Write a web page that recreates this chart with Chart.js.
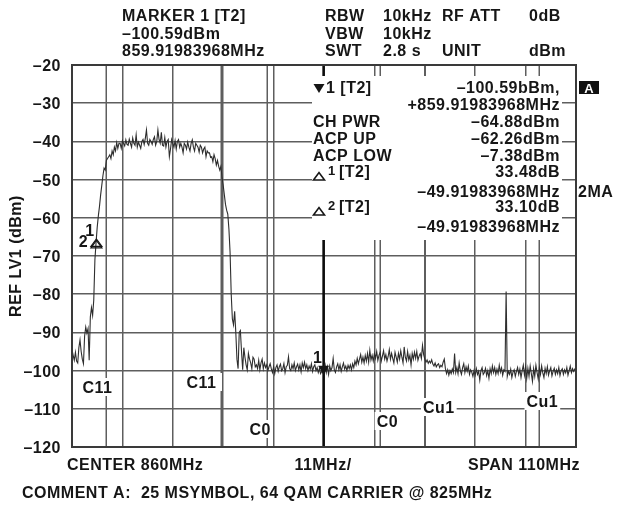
<!DOCTYPE html>
<html>
<head>
<meta charset="utf-8">
<title>Spectrum – 64 QAM carrier</title>
<script src="https://cdn.jsdelivr.net/npm/chart.js@4.4.1/dist/chart.umd.min.js"></script>
<style>
  html, body { margin: 0; padding: 0; background: #fff; }
  #spec { display: block; }
</style>
</head>
<body>
<canvas id="spec" width="617" height="505"></canvas>
<script>
// Sweep 805–915 MHz, one trace point every 0.25 MHz
const sweepStartMHz = 805;
const sweepStepMHz = 0.25;
const traceDbm = [
  -94.5, -96, -97.3, -95.2, -97.5, -98, -94, -92, -95, -97, -98.2, -91, -88.6, -90.2, -89, -97.3, -86, -83.5, -85.5, -81.5,
  -71, -66.5, -62.5, -59.5, -57, -54, -51.5, -49, -47, -47.5, -45, -44.5, -44, -43.5, -44.5, -42.5, -43.5, -41.5, -42.5, -40.3,
  -41.8, -40.5, -40.5, -41.8, -39.8, -40.5, -41.2, -39.6, -40.8, -41, -39.4, -40.5, -41.5, -39.1, -40.5, -41, -38.3, -41.5, -40.2, -41,
  -41.8, -40, -39.5, -40.8, -39.2, -37, -40.5, -41, -39.5, -40, -40.8, -39.5, -38.8, -41, -40, -37, -39.5, -40.5, -37.6, -41,
  -41.2, -39, -41.5, -40, -39.5, -44, -42, -39.5, -40.5, -41.5, -39.8, -42, -40, -39.5, -41.5, -40.5, -41.5, -43, -40.5, -41,
  -42, -40.2, -41.5, -42.5, -40.5, -39.6, -41.5, -42.5, -40.5, -41, -41.5, -42.8, -41, -41.5, -43, -42, -41.5, -44, -42.5, -43,
  -43, -44.2, -44, -45.3, -43.5, -44.5, -46.2, -45, -46.5, -47.5, -46.5, -49.5, -51.5, -54, -56.5, -58, -59, -63, -69, -80,
  -86.5, -88, -84.5, -90, -97, -99.5, -90, -89.5, -95, -99.8, -94, -96.5, -98.5, -99.8, -95.5, -97, -98, -99.5, -96.5, -97,
  -99, -98.5, -99.5, -97.3, -99.8, -98, -97, -99.5, -98, -99.2, -98.5, -100, -99, -98.2, -99.5, -100.5, -99, -100.8, -99.2, -98.5,
  -100.2, -99, -98.3, -100, -99.5, -98.2, -100.5, -99, -98.6, -96.4, -99.5, -100, -98.5, -99.5, -98, -100, -99, -98.3, -99.8, -98.5,
  -100.3, -98, -99.2, -97.8, -99.5, -98.5, -100, -98.8, -99.6, -98.2, -100.2, -99, -98.5, -100, -99.2, -100.5, -99.5, -100.8, -100.2, -100.6,
  -99.8, -98.5, -100.5, -99, -101, -98.8, -100, -99.2, -96.8, -99.8, -100.5, -99, -98.2, -99.8, -98.5, -100.2, -99, -98, -99.6, -98.8,
  -100, -98.6, -99.5, -98.5, -99.8, -98.2, -99.2, -97.5, -98.5, -96.8, -98.2, -97, -95.8, -97.8, -96.5, -98, -96, -97.5, -95.5, -97.8,
  -94.7, -97.2, -96, -97.5, -95.5, -96.8, -95, -97.3, -96, -95.2, -97.5, -96.2, -94.8, -97, -95.8, -97.5, -96.3, -94.5, -97, -95.5,
  -96.8, -98, -95.2, -96.5, -97.8, -95.5, -97, -94.8, -96.5, -98, -93.8, -96.5, -97.5, -95, -97.2, -96, -98.5, -95.5, -97, -95.2,
  -96.8, -95, -97.3, -96.2, -95.5, -96.8, -93.4, -95.8, -97, -97.8, -97.2, -98.1, -97.5, -98, -97.2, -98.3, -98.8, -98, -99, -98.5,
  -98.2, -99.2, -98.6, -99, -97.8, -97, -99.5, -100.8, -99.8, -101.2, -100, -100.8, -99.6, -100.5, -95.5, -100.5, -99.2, -100.8, -98, -100,
  -101, -99.2, -98.2, -100.5, -99, -100.2, -98.8, -101, -99.8, -100.4, -101.5, -100, -101.2, -99.5, -101, -100.2, -102.5, -100, -99.2, -101,
  -100.5, -99.4, -101.3, -100, -102, -99.5, -100.8, -98.8, -100.5, -99.2, -101, -99.6, -100.8, -98.6, -100.4, -99.3, -101.2, -99.8, -100.2, -79.3,
  -101.5, -100.2, -101, -99.6, -101.8, -100.4, -99.8, -101.5, -100.2, -99.2, -101, -99.6, -101.8, -100, -98.6, -101.2, -99, -102, -99.4, -101.5,
  -98.8, -100.8, -102.8, -99.5, -101.5, -98.6, -100.5, -102.2, -99.2, -101, -98.8, -100.6, -101.8, -99.4, -100.8, -99, -101.2, -100, -99.2, -101.4,
  -100.2, -99.4, -101, -99.8, -100.8, -99.2, -101.3, -100, -99.5, -101, -99.8, -100.6, -99.2, -101.2, -100, -98.8, -100.5, -99.5, -100.2, -99.6,
  -100
];

// 11 MHz per division, 10 dB per division
const xGridMHz = [805, 816, 827, 838, 849, 860, 871, 882, 893, 904, 915];
const yTicksDbm = [-20, -30, -40, -50, -60, -70, -80, -90, -100, -110, -120];

// channel edges (C11 = carrier, C0 / Cu1 = adjacent channels)
const channelEdgesMHz = [812.5, 837.6, 847.6, 872.3, 882.0, 907.0];
const channelEdgeNames = ['C11', 'C11', 'C0', 'C0', 'Cu1', 'Cu1'];

// marker 1 and the two delta markers relative to it
const marker1MHz = 859.91983968;
const marker1Dbm = -100.59;
const deltaMHz = [-49.91983968, -49.91983968];
const deltaDb = [33.48, 33.10];

const headerText = [
  ['MARKER 1 [T2]', '\u2013100.59dBm', '859.91983968MHz'],
  ['RBW', 'VBW', 'SWT'],
  ['10kHz', '10kHz', '2.8 s'],
  ['RF ATT', '', 'UNIT'],
  ['0dB', '', 'dBm']
];
const boxLeft = ['CH PWR', 'ACP UP', 'ACP LOW'];
const boxRight = ['\u201364.88dBm', '\u201362.26dBm', '\u20137.38dBm'];

// ---------- drawing helpers ----------
const INK = '#161616';
const GRID = '#5e5e5e';
const FONT = '"Liberation Sans", Arial, Helvetica, sans-serif';

function dash(v) { return (v < 0 ? '\u2013' : '') + Math.abs(v); }

function txt(ctx, s, x, y, align, size) {
  ctx.font = 'bold ' + (size || 16) + 'px ' + FONT;
  ctx.letterSpacing = '0.5px';
  ctx.textAlign = align || 'left';
  ctx.textBaseline = 'alphabetic';
  ctx.fillStyle = INK;
  ctx.fillText(s, x, y);
}

function triDown(ctx, cx, tipY) {
  ctx.beginPath();
  ctx.moveTo(cx - 5.5, tipY - 9);
  ctx.lineTo(cx + 5.5, tipY - 9);
  ctx.lineTo(cx, tipY);
  ctx.closePath();
  ctx.fillStyle = INK;
  ctx.fill();
}

function triUp(ctx, cx, baseY, lw) {
  ctx.beginPath();
  ctx.moveTo(cx - 5.5, baseY);
  ctx.lineTo(cx + 5.5, baseY);
  ctx.lineTo(cx, baseY - 7.5);
  ctx.closePath();
  ctx.lineWidth = lw || 1.6;
  ctx.strokeStyle = INK;
  ctx.stroke();
}

// where each channel label sits: pixel offset from its edge line, label centre y
const edgeLabelLayout = [
  { dx: -9, cy: 387 }, { dx: -20, cy: 382 },
  { dx: -7, cy: 429 }, { dx: 7, cy: 421 },
  { dx: 14, cy: 407 }, { dx: 3, cy: 401 }
];
const textBox = { l: 312, r: 562, t: 76, b: 240 };

const overlay = {
  id: 'analyzerOverlay',
  beforeDatasetsDraw(chart) {
    const { ctx, chartArea: a, scales: { x, y } } = chart;
    ctx.save();
    ctx.font = 'bold 16px ' + FONT;
    ctx.letterSpacing = '0.5px';

    // white patches behind channel labels
    channelEdgesMHz.forEach((f, i) => {
      const L = edgeLabelLayout[i];
      const w = ctx.measureText(channelEdgeNames[i]).width;
      const cx = x.getPixelForValue(f) + L.dx;
      ctx.fillStyle = '#fff';
      ctx.fillRect(cx - w / 2 - 2, L.cy - 9, w + 4, 18);
    });

    // channel edge lines, broken where the label sits
    ctx.strokeStyle = GRID;
    ctx.lineWidth = 1.5;
    channelEdgesMHz.forEach((f, i) => {
      const px = Math.round(x.getPixelForValue(f)) + 0.25;
      const cy = edgeLabelLayout[i].cy;
      ctx.beginPath();
      ctx.moveTo(px, a.top);
      ctx.lineTo(px, cy - 9);
      ctx.moveTo(px, cy + 9);
      ctx.lineTo(px, a.bottom);
      ctx.stroke();
    });

    // marker 1 frequency line
    const mx = x.getPixelForValue(marker1MHz);
    ctx.strokeStyle = '#0c0c0c';
    ctx.lineWidth = 2.6;
    ctx.beginPath();
    ctx.moveTo(mx, a.top);
    ctx.lineTo(mx, a.bottom);
    ctx.stroke();

    // readout panel
    ctx.fillStyle = '#fff';
    ctx.fillRect(textBox.l, textBox.t, textBox.r - textBox.l, textBox.b - textBox.t);
    ctx.restore();
  },
  afterDatasetsDraw(chart) {
    const { ctx, chartArea: a, scales: { x, y } } = chart;
    ctx.save();

    // frame
    ctx.strokeStyle = '#3a3a3a';
    ctx.lineWidth = 2;
    ctx.strokeRect(a.left, a.top, a.right - a.left, a.bottom - a.top);

    // marker 1 on the trace
    const mx = x.getPixelForValue(marker1MHz);
    const my = y.getPixelForValue(marker1Dbm);
    triDown(ctx, mx, my + 2);
    txt(ctx, '1', mx - 6, my - 10, 'center');

    // delta markers
    deltaMHz.forEach((d, k) => {
      const dx = x.getPixelForValue(marker1MHz + d);
      const dy = y.getPixelForValue(marker1Dbm + deltaDb[k]);
      triUp(ctx, dx + 1.5, dy + 1.5, 1.2);
    });
    const d1x = x.getPixelForValue(marker1MHz + deltaMHz[0]) + 1.5;
    const d1y = y.getPixelForValue(marker1Dbm + deltaDb[0]) + 1.5;
    txt(ctx, '1', d1x - 6.5, d1y - 10, 'center');
    txt(ctx, '2', d1x - 13, d1y + 1, 'center');

    // channel labels
    channelEdgesMHz.forEach((f, i) => {
      const L = edgeLabelLayout[i];
      txt(ctx, channelEdgeNames[i], x.getPixelForValue(f) + L.dx, L.cy + 6, 'center');
    });

    // readout panel text
    const R = 560;
    triDown(ctx, 319, 93);
    txt(ctx, '1 [T2]', 326, 93);
    txt(ctx, '\u2013100.59bBm,', R, 93, 'right');
    txt(ctx, '+' + marker1MHz.toFixed(8) + 'MHz', R, 110, 'right');
    const rowY = [127, 144, 161];
    boxLeft.forEach((s, i) => {
      txt(ctx, s, 313, rowY[i]);
      txt(ctx, boxRight[i], R, rowY[i], 'right');
    });
    const dRow = [177, 212];
    deltaDb.forEach((db, k) => {
      triUp(ctx, 319, dRow[k] + 3);
      txt(ctx, String(k + 1), 328, dRow[k] - 2, 'left', 13);
      txt(ctx, ' [T2]', 334, dRow[k]);
      txt(ctx, db.toFixed(2) + 'dB', R, dRow[k], 'right');
      txt(ctx, dash(deltaMHz[k].toFixed(8)) + 'MHz', R, dRow[k] + 19.5, 'right');
    });
    ctx.restore();
  },
  afterDraw(chart) {
    const { ctx, chartArea: a, scales: { y } } = chart;
    ctx.save();

    // instrument settings header
    const colX = [122, 325, 383, 442, 529];
    const rowY = [21, 39, 56];
    headerText.forEach((col, c) => col.forEach((s, r) => {
      if (s) txt(ctx, s, colX[c], rowY[r]);
    }));

    // level axis
    yTicksDbm.forEach(v => txt(ctx, dash(v), 61, y.getPixelForValue(v) + 6, 'right'));
    ctx.save();
    ctx.translate(21, (a.top + a.bottom) / 2);
    ctx.rotate(-Math.PI / 2);
    txt(ctx, 'REF LV1 (dBm)', 0, 0, 'center');
    ctx.restore();

    // frequency axis notes
    txt(ctx, 'CENTER 860MHz', 67, 470);
    txt(ctx, '11MHz/', 323, 470, 'center');
    txt(ctx, 'SPAN 110MHz', 580, 470, 'right');
    txt(ctx, 'COMMENT A:  25 MSYMBOL, 64 QAM CARRIER @ 825MHz', 22, 498);

    // trace A badge and detector note
    ctx.fillStyle = '#111';
    ctx.fillRect(579, 81, 20, 13);
    ctx.fillStyle = '#fff';
    ctx.font = 'bold 13px ' + FONT;
    ctx.letterSpacing = '0px';
    ctx.textAlign = 'center';
    ctx.fillText('A', 589, 92.5);
    txt(ctx, '2MA', 578, 197);
    ctx.restore();
  }
};

new Chart(document.getElementById('spec'), {
  type: 'line',
  data: {
    datasets: [{
      data: traceDbm.map((v, i) => ({ x: sweepStartMHz + i * sweepStepMHz, y: v })),
      borderColor: '#2e2e2e',
      borderWidth: 1.1,
      pointRadius: 0,
      tension: 0
    }]
  },
  options: {
    responsive: false,
    animation: false,
    devicePixelRatio: 1,
    layout: { padding: { left: 72, right: 41, top: 65, bottom: 58 } },
    plugins: { legend: { display: false }, tooltip: { enabled: false } },
    scales: {
      x: {
        type: 'linear', min: 805, max: 915,
        afterBuildTicks: s => { s.ticks = xGridMHz.map(v => ({ value: v })); },
        ticks: { display: false },
        grid: { color: GRID, lineWidth: 1.5, drawTicks: false },
        border: { display: false }
      },
      y: {
        min: -120, max: -20,
        afterBuildTicks: s => { s.ticks = yTicksDbm.map(v => ({ value: v })); },
        ticks: { display: false },
        grid: { color: GRID, lineWidth: 1.5, drawTicks: false },
        border: { display: false }
      }
    }
  },
  plugins: [overlay]
});
</script>
</body>
</html>
